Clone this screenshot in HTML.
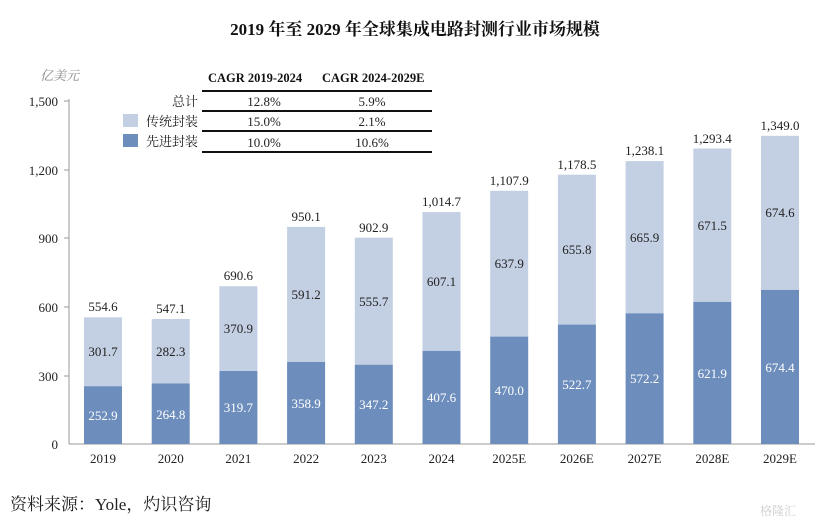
<!DOCTYPE html>
<html><head><meta charset="utf-8"><style>
body{margin:0;background:#fff;}
svg{display:block;font-family:"Liberation Serif","Noto Serif CJK SC",serif;}
</style></head><body>
<svg width="830" height="526" viewBox="0 0 830 526" xmlns="http://www.w3.org/2000/svg">
<text x="415" y="35" text-anchor="middle" font-size="17" font-weight="bold" fill="#111">2019 年至 2029 年全球集成电路封测行业市场规模</text>
<text x="40" y="80" font-size="13" font-style="italic" fill="#888">亿美元</text>
<!-- axis -->
<line x1="69" y1="99" x2="69" y2="444" stroke="#999" stroke-width="1"/>
<line x1="69" y1="444" x2="815" y2="444" stroke="#999" stroke-width="1"/>
<g stroke="#999"><line x1="64" y1="101" x2="69" y2="101"/><line x1="64" y1="170" x2="69" y2="170"/><line x1="64" y1="238" x2="69" y2="238"/><line x1="64" y1="307" x2="69" y2="307"/><line x1="64" y1="376" x2="69" y2="376"/></g>
<g font-size="13" fill="#222" text-anchor="end">
<text x="58" y="106">1,500</text><text x="58" y="175">1,200</text><text x="58" y="243">900</text><text x="58" y="312">600</text><text x="58" y="381">300</text><text x="58" y="449">0</text>
</g>
<!-- table -->
<g stroke="#111"><line x1="202" y1="91" x2="432" y2="91" stroke-width="2"/><line x1="202" y1="111" x2="432" y2="111" stroke-width="2"/><line x1="202" y1="131" x2="432" y2="131" stroke-width="2"/><line x1="202" y1="152" x2="432" y2="152" stroke-width="2"/></g>
<g font-size="12.5" font-weight="bold" fill="#111"><text x="208" y="82">CAGR 2019-2024</text><text x="322" y="82">CAGR 2024-2029E</text></g>
<g font-size="13" fill="#222" text-anchor="end"><text x="198" y="106">总计</text><text x="198" y="126">传统封装</text><text x="198" y="146">先进封装</text></g>
<rect x="123" y="114" width="15" height="13" fill="#c3cfe2"/><rect x="123" y="134" width="15" height="13" fill="#6d8ebd"/>
<g font-size="13" fill="#222" text-anchor="middle"><text x="264" y="106">12.8%</text><text x="372" y="106">5.9%</text><text x="264" y="126">15.0%</text><text x="372" y="126">2.1%</text><text x="264" y="147">10.0%</text><text x="372" y="147">10.6%</text></g>
<!-- bars -->
<g fill="#c3cfe2">
<rect x="84" y="317.3" width="38" height="68.9"/><rect x="151.7" y="319" width="38" height="64.5"/><rect x="219.4" y="286.2" width="38" height="84.8"/><rect x="287.1" y="226.9" width="38" height="135.1"/><rect x="354.8" y="237.7" width="38" height="127"/><rect x="422.5" y="212.1" width="38" height="138.8"/><rect x="490.2" y="190.8" width="38" height="145.8"/><rect x="557.9" y="174.7" width="38" height="149.9"/><rect x="625.6" y="161.1" width="38" height="152.2"/><rect x="693.3" y="148.5" width="38" height="153.4"/><rect x="761" y="135.8" width="38" height="154.1"/>
</g>
<g fill="#6d8ebd">
<rect x="84" y="386.2" width="38" height="57.8"/><rect x="151.7" y="383.5" width="38" height="60.5"/><rect x="219.4" y="371" width="38" height="73"/><rect x="287.1" y="362" width="38" height="82"/><rect x="354.8" y="364.7" width="38" height="79.3"/><rect x="422.5" y="350.9" width="38" height="93.1"/><rect x="490.2" y="336.6" width="38" height="107.4"/><rect x="557.9" y="324.6" width="38" height="119.4"/><rect x="625.6" y="313.3" width="38" height="130.7"/><rect x="693.3" y="301.9" width="38" height="142.1"/><rect x="761" y="289.9" width="38" height="154.1"/>
</g>
<g font-size="13" fill="#222" text-anchor="middle">
<text x="103" y="311">554.6</text><text x="170.7" y="313">547.1</text><text x="238.4" y="280">690.6</text><text x="306.1" y="221">950.1</text><text x="373.8" y="232">902.9</text><text x="441.5" y="206">1,014.7</text><text x="509.2" y="185">1,107.9</text><text x="576.9" y="169">1,178.5</text><text x="644.6" y="155">1,238.1</text><text x="712.3" y="143">1,293.4</text><text x="780" y="130">1,349.0</text>
<text x="103" y="356">301.7</text><text x="170.7" y="356">282.3</text><text x="238.4" y="333">370.9</text><text x="306.1" y="299">591.2</text><text x="373.8" y="306">555.7</text><text x="441.5" y="286">607.1</text><text x="509.2" y="268">637.9</text><text x="576.9" y="254">655.8</text><text x="644.6" y="242">665.9</text><text x="712.3" y="230">671.5</text><text x="780" y="217">674.6</text>
</g>
<g font-size="13" fill="#fff" text-anchor="middle">
<text x="103" y="420">252.9</text><text x="170.7" y="419">264.8</text><text x="238.4" y="412">319.7</text><text x="306.1" y="408">358.9</text><text x="373.8" y="409">347.2</text><text x="441.5" y="402">407.6</text><text x="509.2" y="395">470.0</text><text x="576.9" y="389">522.7</text><text x="644.6" y="383">572.2</text><text x="712.3" y="378">621.9</text><text x="780" y="372">674.4</text>
</g>
<g font-size="13" fill="#222" text-anchor="middle">
<text x="103" y="463">2019</text><text x="170.7" y="463">2020</text><text x="238.4" y="463">2021</text><text x="306.1" y="463">2022</text><text x="373.8" y="463">2023</text><text x="441.5" y="463">2024</text><text x="509.2" y="463">2025E</text><text x="576.9" y="463">2026E</text><text x="644.6" y="463">2027E</text><text x="712.3" y="463">2028E</text><text x="780" y="463">2029E</text>
</g>
<text x="10" y="510" font-size="17" fill="#222">资料来源：Yole，灼识咨询</text>
<text x="760" y="515" font-size="12" fill="#ccc">格隆汇</text>
</svg>
</body></html>
